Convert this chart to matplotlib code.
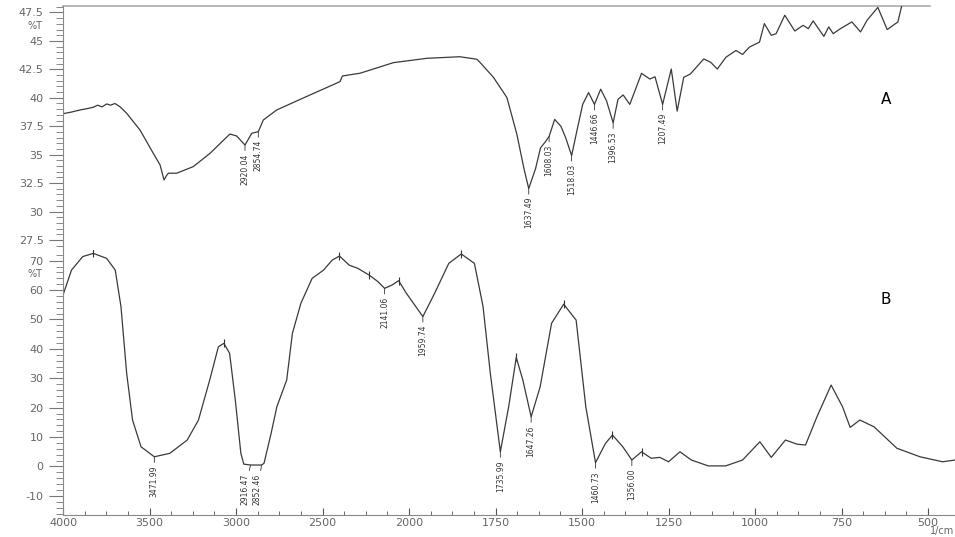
import numpy as np
import matplotlib.pyplot as plt
from matplotlib.ticker import FixedLocator, MultipleLocator, FuncFormatter

# spectrum A (upper trace), wavenumber 1/cm vs %T
a_wn = [4000, 3950, 3902, 3860, 3825, 3800, 3775, 3747, 3725, 3700, 3671, 3632,
        3555, 3478, 3439, 3416, 3400, 3391, 3343, 3247, 3150, 3035, 2996, 2948,
        2909, 2871, 2842, 2765, 2572, 2399, 2385, 2283, 2090, 1949, 1853, 1804,
        1795, 1756, 1717, 1688, 1668, 1654, 1634, 1620, 1605, 1595, 1579, 1561,
        1547, 1530, 1513, 1498, 1481, 1464, 1446, 1429, 1410, 1396, 1381, 1362,
        1347, 1328, 1304, 1289, 1267, 1242, 1225, 1206, 1187, 1148, 1128, 1109,
        1084, 1055, 1036, 1016, 987, 973, 953, 939, 914, 885, 861, 846,
        832, 801, 787, 774, 753, 720, 695, 676, 645, 618, 587, 572]
a_t = [38.6, 38.75, 38.93, 39.05, 39.17, 39.35, 39.2, 39.46, 39.35, 39.5, 39.22, 38.64,
       37.17, 35.12, 34.1, 32.78, 33.2, 33.37, 33.37, 33.95, 35.12, 36.82, 36.64, 35.85,
       36.88, 37.02, 38.05, 38.93, 40.25, 41.42, 41.92, 42.16, 43.09, 43.47, 43.61, 43.39,
       43.12, 41.8, 40.02, 36.76, 33.8, 32.02, 33.8, 35.59, 36.17, 36.61, 38.1, 37.5,
       36.47, 34.92, 37.35, 39.42, 40.46, 39.42, 40.76, 39.72, 37.8, 39.87, 40.25, 39.42,
       40.61, 42.15, 41.65, 41.85, 39.42, 42.53, 38.83, 41.8, 42.09, 43.42, 43.12, 42.53,
       43.57, 44.16, 43.81, 44.46, 44.9, 46.52, 45.49, 45.64, 47.26, 45.87, 46.37, 46.08,
       46.76, 45.4, 46.23, 45.64, 46.08, 46.67, 45.79, 46.82, 47.95, 46.0, 46.67, 48.6]
a_peak_wn = [2948, 2871, 1654, 1595, 1530, 1464, 1410, 1267]
a_peak_lbl = ["2920.04", "2854.74", "1637.49", "1608.03", "1518.03",
              "1446.66", "1396.53", "1207.49"]

# spectrum B (lower trace)
b_wn = [4000, 3951, 3886, 3825, 3748, 3698, 3665, 3632, 3598, 3549, 3472, 3382,
        3282, 3217, 3152, 3102, 3070, 3037, 3004, 2972, 2955, 2916, 2852, 2838,
        2797, 2764, 2707, 2674, 2625, 2560, 2494, 2444, 2402, 2346, 2296, 2230,
        2180, 2141, 2099, 2060, 2015, 1960, 1926, 1885, 1849, 1811, 1786, 1765,
        1736, 1712, 1690, 1671, 1647, 1621, 1588, 1553, 1517, 1489, 1461, 1432,
        1412, 1382, 1356, 1328, 1300, 1275, 1250, 1217, 1184, 1135, 1085, 1036,
        986, 953, 912, 879, 854, 821, 780, 747, 725, 697, 656, 590,
        523, 458, 422]
b_t = [58.3, 66.8, 71.4, 72.5, 70.8, 66.8, 54.4, 31.7, 15.8, 6.7, 3.3, 4.5,
       9.0, 15.8, 29.4, 40.7, 41.9, 38.5, 22.6, 4.5, 0.8, 0.5, 0.5, 1.1,
       11.3, 20.3, 29.4, 45.3, 55.5, 64.0, 66.8, 70.2, 71.6, 68.5, 67.4, 65.1,
       62.9, 60.6, 61.7, 63.2, 58.9, 51.0, 58.9, 69.1, 72.3, 69.1, 54.4, 31.7,
       5.0, 20.3, 37.1, 29.4, 16.9, 27.1, 48.7, 55.2, 49.8, 20.3, 1.3, 7.9,
       10.7, 6.7, 2.2, 5.0, 2.8, 3.1, 1.6, 5.0, 2.2, 0.2, 0.2, 2.2,
       8.4, 3.1, 9.0, 7.6, 7.3, 16.9, 27.7, 20.3, 13.3, 15.8, 13.5, 6.2,
       3.3, 1.6, 2.2]
b_peak_wn = [3472, 2916, 2852, 2141, 1960, 1736, 1647, 1461, 1356]
b_peak_lbl = ["3471.99", "2916.47", "2852.46", "2141.06", "1959.74",
              "1735.99", "1647.26", "1460.73", "1356.00"]
b_max_wn = [3825, 3070, 2402, 2230, 2060, 1849, 1690, 1553, 1412, 1328]

x_ticks = [4000, 3500, 3000, 2500, 2000, 1750, 1500, 1250, 1000, 750, 500]


# two-speed wavenumber axis (2000 1/cm break, like the instrument software)
def fwd(x):
    x = np.asarray(x, float)
    return np.where(x <= 2000, x / 250.0, 8 + (x - 2000) / 500.0)


def inv(u):
    u = np.asarray(u, float)
    return np.where(u <= 8, u * 250.0, 2000 + (u - 8) * 500.0)


grey = "#666666"
line_c = "#3a3a3a"
W, H = 955, 537

fig = plt.figure(figsize=(9.55, 5.37), dpi=100)
x0, x1 = 63 / W, 1.0
ax_a = fig.add_axes([x0, 1 - 250 / H, x1 - x0, (250 - 6) / H])
ax_b = fig.add_axes([x0, 1 - 515 / H, x1 - x0, (515 - 250) / H], sharex=ax_a)

for ax in (ax_a, ax_b):
    ax.set_xscale("function", functions=(fwd, inv))
    ax.set_xlim(4000, 422)
    for s in ("top", "right", "bottom"):
        ax.spines[s].set_visible(False)
    ax.spines["left"].set_color("#888888")
    ax.tick_params(axis="y", which="major", length=10, width=0.8, color="#777777",
                   labelsize=8, labelcolor=grey, pad=4)
    ax.tick_params(axis="y", which="minor", length=5, width=0.6, color="#777777")

ax_b.spines["bottom"].set_visible(True)
ax_b.spines["bottom"].set_color("#888888")
ax_b.xaxis.set_major_locator(FixedLocator(x_ticks))
ax_b.xaxis.set_minor_locator(FixedLocator(list(np.arange(2000, 4001, 125)) +
                                          list(np.arange(500, 2000, 62.5))))
ax_b.xaxis.set_major_formatter(FuncFormatter(lambda v, _: f"{v:g}"))
ax_b.tick_params(axis="x", which="major", direction="in", length=5, width=0.8,
                 color="#555555", labelsize=8, labelcolor=grey, pad=2)
ax_b.tick_params(axis="x", which="minor", direction="in", length=3, width=0.6,
                 color="#555555")
ax_a.tick_params(axis="x", which="both", bottom=False, labelbottom=False)

# top frame line
ax_a.plot([0, (930 - 63) / (W - 63)], [1, 1], transform=ax_a.transAxes,
          color="#aaaaaa", lw=1.2, clip_on=False)

# y axes
ax_a.set_ylim(26.62, 48.07)
ax_a.yaxis.set_major_locator(FixedLocator([27.5, 30, 32.5, 35, 37.5, 40, 42.5, 45, 47.5]))
ax_a.yaxis.set_minor_locator(MultipleLocator(0.5))
ax_a.yaxis.set_major_formatter(FuncFormatter(lambda v, _: f"{v:g}"))

ax_b.set_ylim(-16.5, 73.64)
ax_b.yaxis.set_major_locator(FixedLocator([-10, 0, 10, 20, 30, 40, 50, 60, 70]))
ax_b.yaxis.set_minor_locator(MultipleLocator(2))
ax_b.yaxis.set_major_formatter(FuncFormatter(lambda v, _: f"{v:g}"))

# traces
ax_a.plot(a_wn, a_t, color=line_c, lw=0.9)
ax_b.plot(b_wn, b_t, color=line_c, lw=0.9)

# peak labels
lbl_font = dict(family=["Liberation Sans Narrow", "DejaVu Sans"], fontsize=5.5,
                color="#333333")


def label_peaks(ax, wn, t, peaks, labels, dx=None):
    xs = np.asarray(wn)[::-1]
    ys = np.asarray(t)[::-1]
    for i, (p, lab) in enumerate(zip(peaks, labels)):
        y = np.interp(p, xs, ys)
        off = 0 if dx is None else dx[i]
        ax.annotate(lab, xy=(p, y), xytext=(off, -6), textcoords="offset points",
                    rotation=90, ha="center", va="top",
                    arrowprops=dict(arrowstyle="-", lw=0.6, color="#333333",
                                    shrinkA=0, shrinkB=0),
                    **lbl_font)


label_peaks(ax_a, a_wn, a_t, a_peak_wn, a_peak_lbl)
label_peaks(ax_b, b_wn, b_t, b_peak_wn, b_peak_lbl,
            dx=[0, -4, -3, 0, 0, 0, 0, 0, 0])

# small ticks on maxima of B
bx = np.asarray(b_wn)[::-1]
by = np.asarray(b_t)[::-1]
ax_b.plot(b_max_wn, np.interp(b_max_wn, bx, by), ls="none", marker="|",
          ms=6, mew=0.8, color="#333333")

# texts
fig.text(42 / W, 1 - 26 / H, "%T", ha="right", va="center", fontsize=7, color=grey)
fig.text(42 / W, 1 - 274 / H, "%T", ha="right", va="center", fontsize=7, color=grey)
fig.text(886 / W, 1 - 100 / H, "A", ha="center", va="center", fontsize=11)
fig.text(886 / W, 1 - 300 / H, "B", ha="center", va="center", fontsize=11)
fig.text(954 / W, 1 / H, "1/cm", ha="right", va="bottom", fontsize=7, color=grey)

fig.savefig("out.png", dpi=100)
